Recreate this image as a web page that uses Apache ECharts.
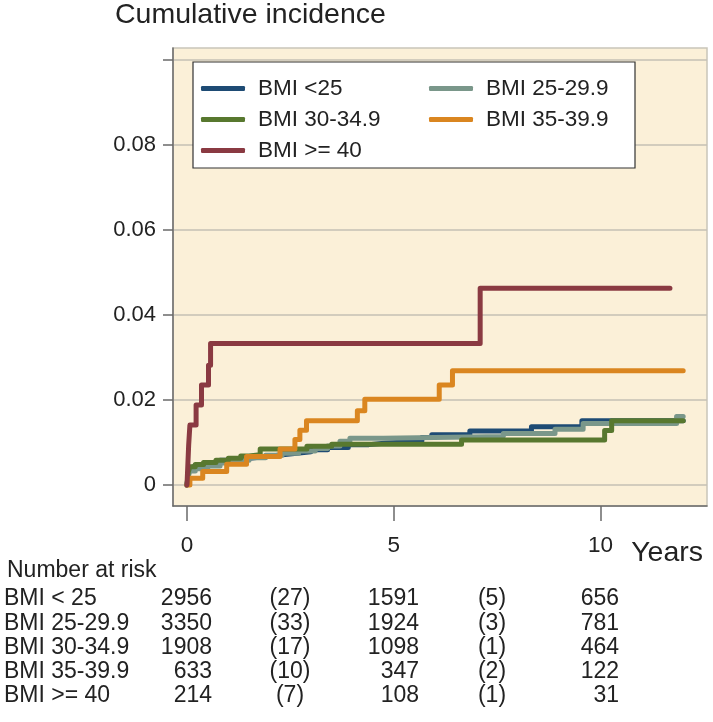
<!DOCTYPE html>
<html>
<head>
<meta charset="utf-8">
<script src="https://cdn.jsdelivr.net/npm/echarts@6/dist/echarts.min.js"></script>
<style>
html,body{margin:0;padding:0;background:#fff;}
#chart{width:713px;height:722px;}
</style>
</head>
<body>
<div id="chart"></div>
<script>
// ---- Data (time in years, cumulative incidence) ----
const seriesNames = ['BMI <25', 'BMI 25-29.9', 'BMI 30-34.9', 'BMI 35-39.9', 'BMI >= 40'];
const seriesColors = ['#1E4B74', '#7A978A', '#58782F', '#DA8620', '#8A3A42'];

const bmiUnder25 = [[0,0],[0.03,0.0025],[0.06,0.0038],[0.15,0.0043],[0.3,0.0048],[0.5,0.0053],[0.8,0.0058],[1.1,0.0062],[1.4,0.0066],[1.8,0.0070],[2.2,0.0074],[2.6,0.0078],[3.0,0.0083],[3.4,0.0088],[3.9,0.0095],[4.4,0.0099],[4.83,0.0103],[5.68,0.0112],[5.92,0.0118],[6.84,0.0127],[8.33,0.0137],[9.55,0.0151],[12.0,0.0151]];
const bmi25to29 = [[0,0],[0.03,0.0020],[0.07,0.0033],[0.2,0.0038],[0.5,0.0045],[0.8,0.0052],[1.1,0.0058],[1.5,0.0064],[1.9,0.0070],[2.3,0.0075],[2.7,0.0080],[3.1,0.0086],[3.4,0.0092],[3.7,0.0103],[3.94,0.0110],[4.75,0.0114],[7.65,0.0121],[8.9,0.0131],[9.58,0.0145],[11.84,0.0161],[12.0,0.0161]];
const bmi30to34 = [[0,0],[0.03,0.0030],[0.07,0.0043],[0.2,0.0048],[0.4,0.0053],[0.7,0.0058],[1.0,0.0063],[1.3,0.0068],[1.5,0.0071],[1.77,0.0085],[2.9,0.0091],[3.5,0.0096],[6.64,0.0106],[10.1,0.0128],[10.27,0.0151],[12.0,0.0151]];
const bmi35to39 = [[0,0],[0.07,0.0016],[0.38,0.0032],[0.96,0.0049],[1.44,0.0067],[2.25,0.0085],[2.61,0.0107],[2.73,0.0129],[2.89,0.0151],[4.12,0.0175],[4.30,0.0202],[6.10,0.0235],[6.42,0.0269],[12.0,0.0269]];
const bmi40plus = [[0,0],[0.02,0.0047],[0.04,0.0093],[0.07,0.0141],[0.22,0.0188],[0.35,0.0235],[0.52,0.0282],[0.57,0.0333],[7.09,0.0463],[11.68,0.0463]];

const xTicks = [0, 5, 10];
const yTicks = [0, 0.02, 0.04, 0.06, 0.08, 0.1];
const yTickLabels = [0, 0.02, 0.04, 0.06, 0.08];

// ---- Number at risk table ----
const riskTitle = 'Number at risk';
const riskRowLabels = ['BMI < 25', 'BMI 25-29.9', 'BMI 30-34.9', 'BMI 35-39.9', 'BMI >= 40'];
const riskAt0 = ['2956', '3350', '1908', '633', '214'];
const eventsTo5 = ['(27)', '(33)', '(17)', '(10)', '(7)'];
const riskAt5 = ['1591', '1924', '1098', '347', '108'];
const eventsTo10 = ['(5)', '(3)', '(1)', '(2)', '(1)'];
const riskAt10 = ['656', '781', '464', '122', '31'];

const FONT = '"Liberation Sans", Arial, Helvetica, sans-serif';
const seriesData = [bmiUnder25, bmi25to29, bmi30to34, bmi35to39, bmi40plus];

const chart = echarts.init(document.getElementById('chart'), null, {renderer: 'canvas'});

// legend layout (two columns)
const legendPos = [
  {left: 201, top: 77}, {left: 429, top: 77},
  {left: 201, top: 108}, {left: 429, top: 108},
  {left: 201, top: 139}
];
const legends = seriesNames.map((n, i) => ({
  left: legendPos[i].left, top: legendPos[i].top,
  padding: 0, itemGap: 0,
  itemWidth: 44, itemHeight: 5,
  icon: 'roundRect',
  selectedMode: false,
  data: [{name: n, itemStyle: {color: seriesColors[i]}}],
  textStyle: {fontFamily: FONT, fontSize: 22.5, color: '#222', padding: [0, 0, 0, 8]}
}));

// table graphics
const rowY = [599, 624, 648, 672, 696];
const graphics = [{
  type: 'rect', z: 1,
  shape: {x: 193, y: 62, width: 442, height: 106},
  style: {fill: '#ffffff', stroke: '#333333', lineWidth: 1.2}
}];
riskRowLabels.forEach((lab, r) => {
  const y = rowY[r];
  const cells = [
    {t: lab, x: 4, a: 'left'},
    {t: riskAt0[r], x: 212, a: 'right'},
    {t: eventsTo5[r], x: 290, a: 'center'},
    {t: riskAt5[r], x: 419, a: 'right'},
    {t: eventsTo10[r], x: 492, a: 'center'},
    {t: riskAt10[r], x: 619, a: 'right'}
  ];
  cells.forEach(c => graphics.push({
    type: 'text', x: c.x, y: y, z: 5,
    style: {text: c.t, align: c.a, verticalAlign: 'middle', fill: '#222', font: '23px ' + FONT}
  }));
});

const option = {
  backgroundColor: '#ffffff',
  animation: false,
  title: [
    {text: 'Cumulative incidence', left: 115, top: 1, padding: 0,
     textStyle: {fontFamily: FONT, fontSize: 28.5, fontWeight: 'normal', color: '#222'}},
    {text: 'Years', right: 10, top: 539, padding: 0,
     textStyle: {fontFamily: FONT, fontSize: 28.5, fontWeight: 'normal', color: '#222'}},
    {text: riskTitle, left: 7, top: 559, padding: 0,
     textStyle: {fontFamily: FONT, fontSize: 23, fontWeight: 'normal', color: '#222'}}
  ],
  legend: legends,
  grid: {
    left: 173, top: 48, width: 534, height: 458,
    show: true, backgroundColor: '#FBF0D8', borderColor: '#C9C5B9', borderWidth: 1.5,
    containLabel: false
  },
  xAxis: {
    type: 'value', min: -0.3386, max: 12.5756,
    axisLine: {show: true, onZero: false, lineStyle: {color: '#6a6a6a', width: 1.5}},
    axisTick: {show: true, length: 15, customValues: xTicks, lineStyle: {color: '#6a6a6a', width: 1.5}},
    axisLabel: {show: true, customValues: xTicks, margin: 28, fontFamily: FONT, fontSize: 22.5, color: '#222'},
    splitLine: {show: false}
  },
  yAxis: {
    type: 'value', min: -0.00494, max: 0.10282,
    axisLine: {show: true, onZero: false, lineStyle: {color: '#6a6a6a', width: 1.5}},
    axisTick: {show: true, length: 10, customValues: yTicks, lineStyle: {color: '#6a6a6a', width: 1.5}},
    axisLabel: {show: true, customValues: yTickLabels, margin: 17, fontFamily: FONT, fontSize: 22, color: '#222',
      formatter: v => (v === 0 ? '0' : v.toFixed(2))},
    splitLine: {show: true, lineStyle: {color: '#C4C0B4', width: 1.5}}
  },
  series: seriesNames.map((n, i) => ({
    name: n, type: 'line', step: 'end',
    data: seriesData[i],
    showSymbol: false, symbol: 'none',
    color: seriesColors[i],
    lineStyle: {width: 5, color: seriesColors[i], cap: 'round', join: 'round'},
    z: 2 + i
  })),
  graphic: graphics
};
chart.setOption(option);
</script>
</body>
</html>
